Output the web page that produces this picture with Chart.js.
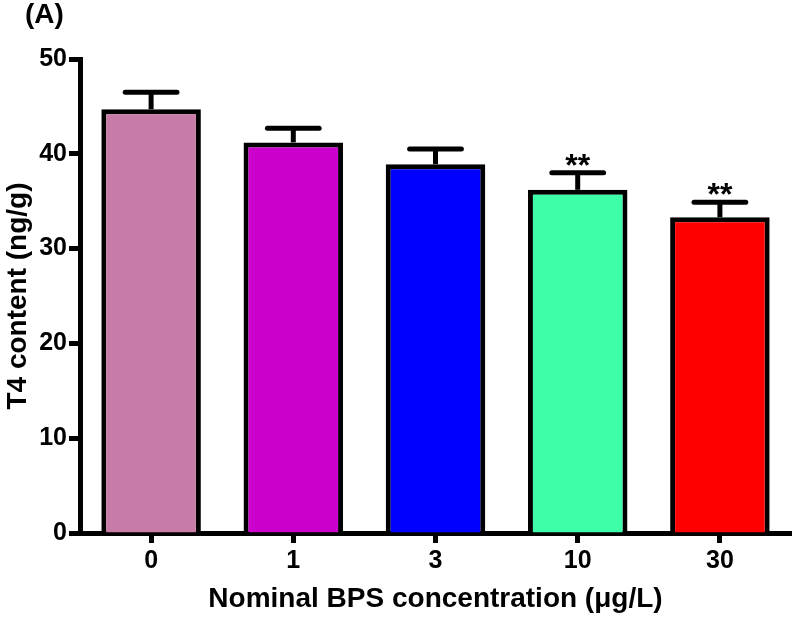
<!DOCTYPE html>
<html>
<head>
<meta charset="utf-8">
<script src="https://cdn.jsdelivr.net/npm/chart.js@4.4.0/dist/chart.umd.min.js"></script>
<style>
  html, body { margin: 0; padding: 0; background: #fff; }
  #wrap { width: 797px; height: 617px; position: relative; }
</style>
</head>
<body>
<div id="wrap"><canvas id="t4Chart"></canvas></div>
<script>
// data
const categories = ["0", "1", "3", "10", "30"];
const t4Means = [44.7, 41.2, 38.9, 36.2, 33.3];
const t4Errors = [1.8, 1.5, 1.6, 1.8, 1.6];
const significance = ["", "", "", "**", "**"];
const yTicks = [0, 10, 20, 30, 40, 50];
const barColors = ["#C97BA8", "#CC00CC", "#0000FF", "#3DFFA8", "#FF0000"];

const FONT = "'Liberation Sans', Arial, sans-serif";

// error bars + significance stars, positioned through the scales
const errorBarPlugin = {
  id: "errorBars",
  afterDatasetsDraw(chart) {
    const ctx = chart.ctx;
    const yScale = chart.scales.y;
    const meta = chart.getDatasetMeta(0);
    ctx.save();
    ctx.strokeStyle = "#000";
    ctx.lineWidth = 5;
    meta.data.forEach((bar, i) => {
      const top = yScale.getPixelForValue(t4Means[i] + t4Errors[i]);
      const half = bar.width * 0.26;
      ctx.lineCap = "butt";
      ctx.beginPath();
      ctx.moveTo(bar.x, bar.y);
      ctx.lineTo(bar.x, top);
      ctx.stroke();
      ctx.lineCap = "round";
      ctx.beginPath();
      ctx.moveTo(bar.x - half, top);
      ctx.lineTo(bar.x + half, top);
      ctx.stroke();
      if (significance[i]) {
        ctx.fillStyle = "#000";
        ctx.font = "bold 32px " + FONT;
        ctx.textAlign = "center";
        ctx.textBaseline = "alphabetic";
        ctx.fillText(significance[i], bar.x, top + 3);
      }
    });
    ctx.restore();
  }
};

// panel letter
const panelLabel = {
  id: "panelLabel",
  afterDraw(chart) {
    const ctx = chart.ctx;
    ctx.save();
    ctx.fillStyle = "#000";
    ctx.font = "bold 28px " + FONT;
    ctx.textAlign = "left";
    ctx.textBaseline = "middle";
    ctx.fillText("(A)", 25, 15);
    ctx.restore();
  }
};

new Chart(document.getElementById("t4Chart"), {
  type: "bar",
  data: {
    labels: categories,
    datasets: [{
      data: t4Means,
      backgroundColor: barColors,
      borderColor: "#000",
      borderWidth: 5,
      borderSkipped: "bottom",
      categoryPercentage: 1,
      barPercentage: 0.7
    }]
  },
  options: {
    responsive: true,
    maintainAspectRatio: false,
    animation: false,
    layout: { padding: { top: 59, right: 6, bottom: 0, left: 0 } },
    plugins: {
      legend: { display: false },
      tooltip: { enabled: false }
    },
    scales: {
      y: {
        min: 0,
        max: 50,
        afterBuildTicks: (s) => { s.ticks = yTicks.map(v => ({ value: v })); },
        afterFit: (s) => { s.width = 80; },
        ticks: {
          color: "#000",
          padding: 2,
          font: { family: FONT, size: 25, weight: "bold" }
        },
        grid: {
          drawOnChartArea: false,
          tickLength: 11,
          tickWidth: 5,
          tickColor: "#000"
        },
        border: { color: "#000", width: 5 },
        title: {
          display: true,
          text: "T4 content (ng/g)",
          color: "#000",
          padding: { top: 1, bottom: 0 },
          font: { family: FONT, size: 28, weight: "bold", lineHeight: 1.2 }
        }
      },
      x: {
        afterFit: (s) => { s.height = 84; },
        ticks: {
          color: "#000",
          padding: 3,
          font: { family: FONT, size: 25, weight: "bold" }
        },
        grid: {
          offset: false,
          drawOnChartArea: false,
          tickLength: 10,
          tickWidth: 5,
          tickColor: "#000"
        },
        border: { color: "#000", width: 5 },
        title: {
          display: true,
          text: "Nominal BPS concentration (μg/L)",
          color: "#000",
          padding: { top: 0, bottom: 1 },
          font: { family: FONT, size: 28, weight: "bold", lineHeight: 1.2 }
        }
      }
    }
  },
  plugins: [errorBarPlugin, panelLabel]
});
</script>
</body>
</html>
